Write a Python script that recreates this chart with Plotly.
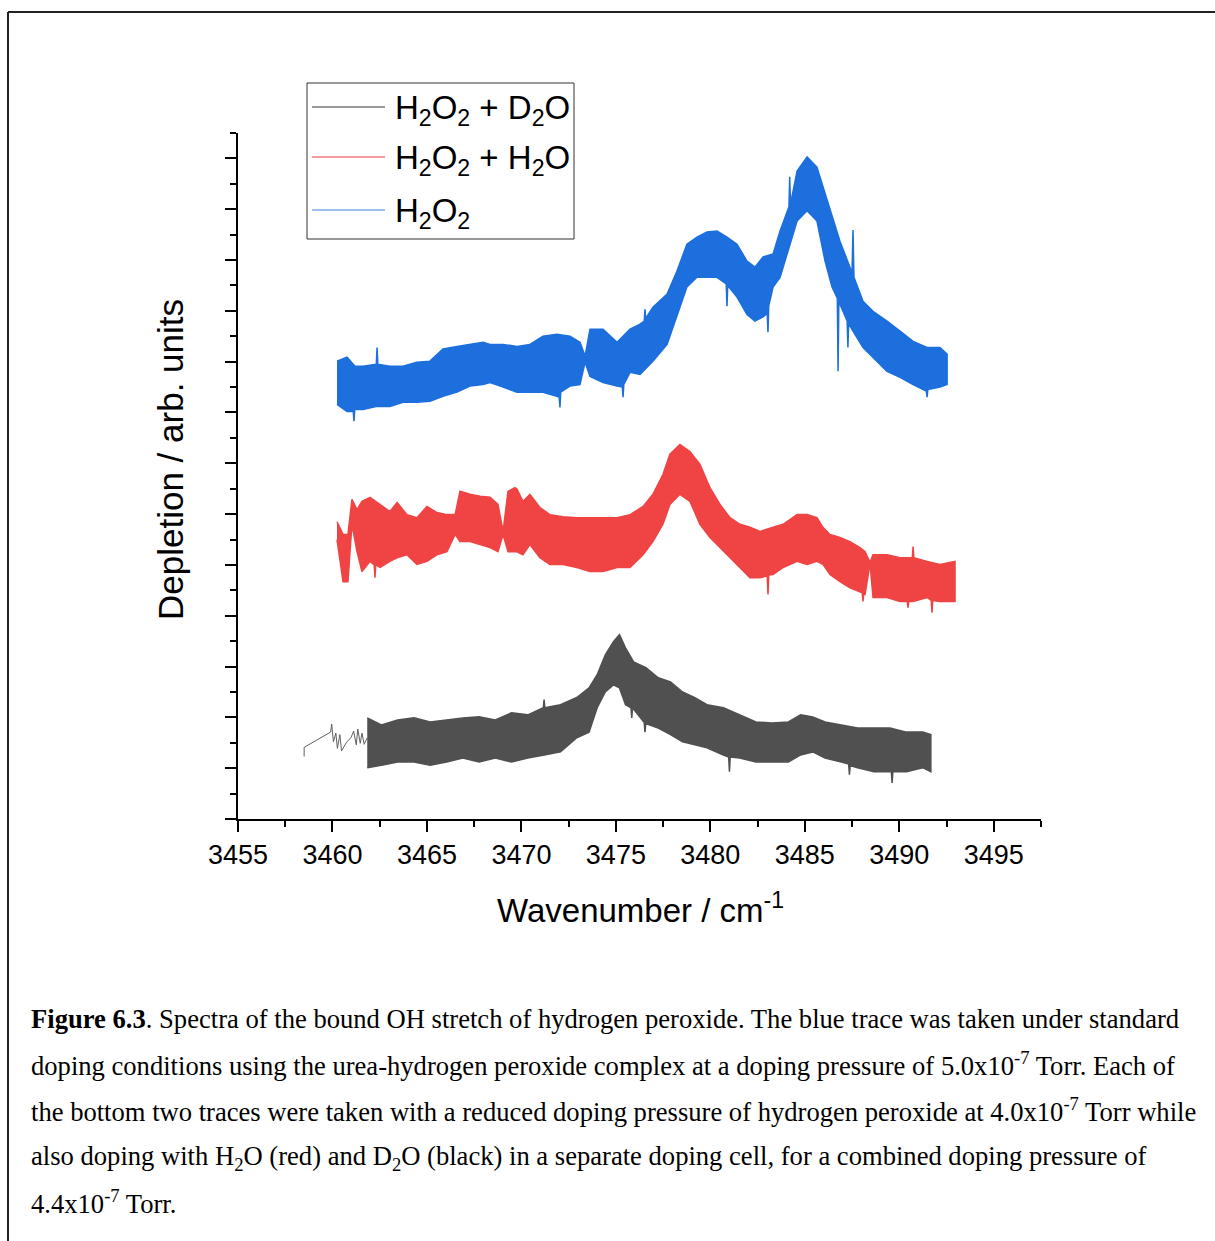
import plotly.graph_objects as go

# ---------------- data ----------------
# H2O2 (blue): upper and lower envelopes of the noisy trace
blue_hi_x = [3460.24, 3460.77, 3461.19, 3461.62, 3462.32, 3462.36, 3462.40, 3463.04, 3463.73, 3464.47,
             3465.16, 3465.85, 3466.59, 3467.28, 3467.97, 3468.34, 3469.03, 3469.77, 3470.45, 3471.14,
             3471.88, 3472.57, 3473.10, 3473.37, 3473.63, 3474.32, 3475.06, 3475.75, 3476.28, 3476.50,
             3476.54, 3476.58, 3476.96, 3477.71, 3478.23, 3478.76, 3479.29, 3479.82, 3480.35, 3480.88,
             3481.41, 3481.94, 3482.36, 3482.79, 3483.32, 3483.69, 3484.11, 3484.16, 3484.20, 3484.24,
             3484.59, 3485.12, 3485.64, 3486.07, 3486.44, 3486.86, 3487.50, 3487.55, 3487.60, 3488.08,
             3488.61, 3489.35, 3490.04, 3490.73, 3491.47, 3492.15, 3492.53]
blue_hi_y = [9.01, 9.09, 8.91, 8.91, 8.95, 9.28, 8.95, 8.91, 8.91, 8.99,
             9.01, 9.25, 9.30, 9.34, 9.38, 9.34, 9.34, 9.30, 9.34, 9.50,
             9.54, 9.50, 9.38, 9.11, 9.64, 9.64, 9.38, 9.64, 9.74, 9.80,
             10.03, 9.85, 10.07, 10.33, 10.78, 11.31, 11.45, 11.55, 11.57, 11.45,
             11.31, 10.98, 10.86, 11.06, 11.12, 11.57, 11.97, 12.05, 12.64, 12.10,
             12.75, 13.03, 12.83, 12.30, 11.85, 11.37, 10.75, 11.59, 10.66, 10.19,
             9.99, 9.80, 9.60, 9.40, 9.28, 9.28, 9.15]
blue_lo_x = [3460.24, 3460.77, 3461.10, 3461.14, 3461.18, 3461.62, 3462.36, 3463.04, 3463.73, 3464.47,
             3465.16, 3465.85, 3466.59, 3467.28, 3467.97, 3468.34, 3469.03, 3469.77, 3470.45, 3471.14,
             3471.88, 3472.00, 3472.04, 3472.08, 3472.57, 3473.10, 3473.37, 3473.63, 3474.32, 3475.06,
             3475.34, 3475.38, 3475.42, 3475.75, 3476.28, 3476.96, 3477.71, 3478.23, 3478.76, 3479.29,
             3479.82, 3480.35, 3480.84, 3480.88, 3480.92, 3481.41, 3481.94, 3482.36, 3482.79, 3483.01,
             3483.05, 3483.09, 3483.32, 3483.69, 3484.11, 3484.59, 3485.12, 3485.64, 3486.07, 3486.44,
             3486.72, 3486.76, 3486.80, 3486.86, 3487.24, 3487.28, 3487.32, 3487.55, 3488.08, 3488.61,
             3489.35, 3490.04, 3490.73, 3491.43, 3491.47, 3491.51, 3492.15, 3492.53]
blue_lo_y = [8.16, 8.02, 8.02, 7.83, 8.06, 8.06, 8.12, 8.12, 8.20, 8.20,
             8.22, 8.32, 8.40, 8.52, 8.55, 8.59, 8.50, 8.40, 8.40, 8.40,
             8.32, 8.30, 8.10, 8.40, 8.52, 8.55, 8.99, 8.71, 8.59, 8.52,
             8.50, 8.30, 8.55, 8.79, 8.75, 9.01, 9.34, 9.88, 10.47, 10.66,
             10.66, 10.66, 10.53, 10.09, 10.50, 10.27, 9.93, 9.80, 9.88, 9.95,
             9.58, 10.10, 10.47, 10.66, 11.18, 11.77, 11.97, 11.77, 10.98, 10.47,
             10.25, 8.81, 10.20, 10.13, 9.80, 9.28, 9.75, 9.60, 9.28, 9.09,
             8.81, 8.69, 8.55, 8.42, 8.30, 8.45, 8.50, 8.55]

# H2O2 + H2O (red)
red_hi_x = [3460.24, 3460.56, 3460.82, 3461.03, 3461.30, 3461.56, 3461.99, 3462.52, 3463.04, 3463.42,
            3463.94, 3464.47, 3465.00, 3465.53, 3466.06, 3466.49, 3466.75, 3467.28, 3467.81, 3468.34,
            3468.76, 3469.03, 3469.29, 3469.66, 3469.77, 3470.08, 3470.45, 3470.98, 3471.51, 3472.20,
            3472.94, 3473.63, 3474.32, 3475.06, 3475.75, 3476.44, 3476.96, 3477.49, 3477.86, 3478.39,
            3478.92, 3479.45, 3479.98, 3480.51, 3481.04, 3481.57, 3482.10, 3482.63, 3483.32, 3483.85,
            3484.59, 3485.12, 3485.64, 3485.96, 3486.33, 3486.86, 3487.39, 3487.92, 3488.19, 3488.45,
            3488.61, 3489.35, 3490.04, 3490.69, 3490.73, 3490.77, 3491.47, 3492.15, 3492.95]
red_hi_y = [5.85, 5.60, 5.60, 6.29, 6.09, 6.25, 6.33, 6.19, 6.05, 6.23,
            5.99, 5.93, 6.15, 6.03, 5.99, 5.99, 6.45, 6.39, 6.35, 6.33,
            6.19, 5.66, 6.45, 6.52, 6.49, 6.25, 6.39, 6.13, 5.99, 5.95,
            5.93, 5.93, 5.93, 5.93, 5.99, 6.15, 6.39, 6.78, 7.18, 7.37,
            7.23, 6.98, 6.52, 6.19, 5.93, 5.80, 5.74, 5.66, 5.74, 5.80,
            5.99, 5.99, 5.93, 5.74, 5.60, 5.54, 5.46, 5.34, 5.26, 5.05,
            5.20, 5.20, 5.14, 5.14, 5.36, 5.14, 5.07, 5.01, 5.07]
red_lo_x = [3460.24, 3460.56, 3460.82, 3461.03, 3461.30, 3461.56, 3461.99, 3462.21, 3462.25, 3462.29,
            3462.52, 3463.04, 3463.42, 3463.94, 3464.47, 3465.00, 3465.53, 3466.06, 3466.49, 3466.75,
            3467.28, 3467.81, 3468.34, 3468.76, 3469.03, 3469.29, 3469.77, 3470.08, 3470.45, 3470.98,
            3471.51, 3472.20, 3472.94, 3473.63, 3474.32, 3475.06, 3475.75, 3476.44, 3476.96, 3477.49,
            3477.86, 3478.39, 3478.92, 3479.45, 3479.98, 3480.51, 3481.04, 3481.57, 3482.10, 3482.63,
            3483.01, 3483.05, 3483.09, 3483.32, 3483.85, 3484.59, 3485.12, 3485.64, 3485.96, 3486.33,
            3486.86, 3487.39, 3487.92, 3488.04, 3488.08, 3488.12, 3488.19, 3488.45, 3488.61, 3489.35,
            3490.04, 3490.42, 3490.46, 3490.50, 3490.73, 3491.47, 3491.69, 3491.73, 3491.77, 3492.15,
            3492.95]
red_lo_y = [5.50, 4.67, 4.67, 5.80, 5.26, 4.87, 5.07, 5.00, 4.75, 5.00,
            4.95, 5.07, 5.14, 5.20, 5.01, 5.07, 5.20, 5.26, 5.60, 5.46,
            5.46, 5.40, 5.34, 5.26, 5.60, 5.26, 5.26, 5.20, 5.40, 5.14,
            5.01, 5.01, 4.95, 4.87, 4.87, 4.95, 4.95, 5.20, 5.46, 5.80,
            6.19, 6.39, 6.25, 5.80, 5.54, 5.34, 5.14, 4.95, 4.75, 4.75,
            4.78, 4.42, 4.80, 4.81, 4.95, 5.07, 5.01, 5.07, 5.01, 4.81,
            4.67, 4.55, 4.47, 4.45, 4.28, 4.44, 4.42, 5.03, 4.36, 4.36,
            4.28, 4.28, 4.16, 4.28, 4.28, 4.36, 4.30, 4.06, 4.30, 4.28,
            4.28]

# H2O2 + D2O (black)
black_sparse_x = [3458.50, 3458.50, 3459.90, 3459.96, 3460.05, 3460.18, 3460.26, 3460.39, 3460.48,
                  3460.76, 3460.98, 3461.12, 3461.26, 3461.34, 3461.47, 3461.56, 3461.68, 3461.84]
black_sparse_y = [1.23, 1.41, 1.71, 1.87, 1.52, 1.69, 1.39, 1.66, 1.34,
                  1.52, 1.60, 1.73, 1.46, 1.77, 1.49, 1.69, 1.47, 1.60]
black_hi_x = [3461.84, 3462.59, 3463.45, 3464.32, 3465.17, 3466.04, 3466.90, 3467.76, 3468.62, 3469.48,
              3470.34, 3471.16, 3471.20, 3471.24, 3472.07, 3472.93, 3473.58, 3474.01, 3474.44, 3474.87,
              3475.19, 3475.51, 3475.94, 3476.59, 3477.24, 3477.89, 3478.53, 3479.18, 3479.82, 3480.69,
              3481.55, 3482.41, 3483.27, 3484.13, 3484.78, 3485.42, 3486.07, 3486.93, 3487.79, 3488.66,
              3489.51, 3490.38, 3491.24, 3491.67]
black_hi_y = [1.99, 1.85, 1.95, 1.99, 1.91, 1.95, 1.99, 2.01, 1.95, 2.09,
              2.05, 2.19, 2.35, 2.19, 2.25, 2.39, 2.58, 2.84, 3.23, 3.49,
              3.63, 3.37, 3.09, 2.98, 2.78, 2.70, 2.50, 2.39, 2.25, 2.19,
              2.05, 1.91, 1.89, 1.91, 2.05, 2.01, 1.91, 1.85, 1.79, 1.79,
              1.79, 1.71, 1.71, 1.66]
black_lo_x = [3461.84, 3462.59, 3463.45, 3464.32, 3465.17, 3466.04, 3466.90, 3467.76, 3468.62, 3469.48,
              3470.34, 3471.21, 3472.07, 3472.93, 3473.58, 3474.01, 3474.44, 3474.87, 3475.19, 3475.51,
              3475.80, 3475.84, 3475.88, 3476.50, 3476.54, 3476.58, 3477.24, 3477.89, 3478.53, 3479.18,
              3479.82, 3480.69, 3480.97, 3481.01, 3481.05, 3481.55, 3482.41, 3483.27, 3484.13, 3484.78,
              3485.42, 3486.07, 3486.93, 3487.32, 3487.36, 3487.40, 3487.79, 3488.66, 3489.51, 3489.58,
              3489.62, 3489.66, 3490.38, 3491.24, 3491.67]
black_lo_y = [1.01, 1.06, 1.12, 1.12, 1.06, 1.12, 1.20, 1.12, 1.20, 1.12,
              1.20, 1.26, 1.32, 1.60, 1.71, 2.19, 2.50, 2.64, 2.58, 2.25,
              2.19, 1.99, 2.19, 1.90, 1.71, 1.88, 1.79, 1.66, 1.52, 1.46,
              1.40, 1.26, 1.22, 0.93, 1.22, 1.20, 1.12, 1.12, 1.12, 1.26,
              1.32, 1.20, 1.12, 1.08, 0.87, 1.05, 1.01, 0.93, 0.93, 0.93,
              0.71, 0.93, 0.93, 1.01, 0.93]

series_names = ["H<sub>2</sub>O<sub>2</sub> + D<sub>2</sub>O",
                "H<sub>2</sub>O<sub>2</sub> + H<sub>2</sub>O",
                "H<sub>2</sub>O<sub>2</sub>"]
x_ticks = [3455, 3460, 3465, 3470, 3475, 3480, 3485, 3490, 3495]

BLACK = "#505050"
RED = "#f04444"
BLUE = "#1c6fdc"
LEG_COLORS = ["#333333", "#e83a3a", "#3a80de"]

SANS = "Liberation Sans, Arial, sans-serif"
SERIF = "Liberation Serif, Times New Roman, serif"

fig = go.Figure()


def band(xh, yh, xl, yl, color, name):
    fig.add_trace(go.Scatter(
        x=list(xh) + list(xl)[::-1],
        y=list(yh) + list(yl)[::-1],
        mode="lines", fill="toself", fillcolor=color,
        line=dict(color=color, width=1.5), name=name, showlegend=False,
        hoverinfo="skip"))


fig.add_trace(go.Scatter(x=black_sparse_x, y=black_sparse_y, mode="lines",
                         line=dict(color="#606060", width=1), showlegend=False, hoverinfo="skip"))
band(black_hi_x, black_hi_y, black_lo_x, black_lo_y, BLACK, series_names[0])
band(red_hi_x, red_hi_y, red_lo_x, red_lo_y, RED, series_names[1])
band(blue_hi_x, blue_hi_y, blue_lo_x, blue_lo_y, BLUE, series_names[2])

# plot area pixels: x 238..1041, y 133..819
W, H = 1215, 1241
L, R, T, B = 238, 1041, 133, 819


def px(x):
    return (x - L) / (R - L)


def py(y):
    return (B - y) / (B - T)


shapes = []
annotations = []

# page frame (top and left edges)
shapes.append(dict(type="line", xref="paper", yref="paper", x0=px(8), x1=px(1215), y0=py(12), y1=py(12),
                   line=dict(color="#222222", width=2)))
shapes.append(dict(type="line", xref="paper", yref="paper", x0=px(8), x1=px(8), y0=py(12), y1=py(1241),
                   line=dict(color="#222222", width=2)))

# legend box
shapes.append(dict(type="rect", xref="paper", yref="paper", x0=px(307), x1=px(574), y0=py(83), y1=py(239),
                   line=dict(color="#333333", width=1), fillcolor="white", layer="above"))
leg_y = [107, 157, 210]
for i in range(3):
    shapes.append(dict(type="line", xref="paper", yref="paper", x0=px(312), x1=px(385),
                       y0=py(leg_y[i]), y1=py(leg_y[i]), line=dict(color=LEG_COLORS[i], width=1.2),
                       layer="above"))
    annotations.append(dict(text=series_names[i], xref="paper", yref="paper", x=px(393), y=py(leg_y[i] + 3),
                            xanchor="left", yanchor="middle", showarrow=False,
                            font=dict(family=SANS, size=33, color="black")))

# axis titles
annotations.append(dict(text="Wavenumber / cm<sup>-1</sup>", xref="paper", yref="paper", x=px(640), y=py(908),
                        xanchor="center", yanchor="middle", showarrow=False,
                        font=dict(family=SANS, size=33, color="black")))
annotations.append(dict(text="Depletion / arb. units", xref="paper", yref="paper", x=px(170), y=py(460),
                        xanchor="center", yanchor="middle", textangle=-90, showarrow=False,
                        font=dict(family=SANS, size=35, color="black")))

# caption
caption = [
    "<b>Figure 6.3</b>. Spectra of the bound OH stretch of hydrogen peroxide. The blue trace was taken under standard",
    "doping conditions using the urea-hydrogen peroxide complex at a doping pressure of 5.0x10<sup>-7</sup> Torr. Each of",
    "the bottom two traces were taken with a reduced doping pressure of hydrogen peroxide at 4.0x10<sup>-7</sup> Torr while",
    "also doping with H<sub>2</sub>O (red) and D<sub>2</sub>O (black) in a separate doping cell, for a combined doping pressure of",
    "4.4x10<sup>-7</sup> Torr.",
]
cap_y = [1019, 1064, 1110, 1158, 1202]
for t, yy in zip(caption, cap_y):
    annotations.append(dict(text=t, xref="paper", yref="paper", x=px(29), y=py(yy),
                            xanchor="left", yanchor="middle", showarrow=False,
                            font=dict(family=SERIF, size=26.6, color="black")))

fig.update_layout(
    width=W, height=H,
    margin=dict(l=L, r=W - R, t=T, b=H - B, pad=0),
    paper_bgcolor="white", plot_bgcolor="white",
    showlegend=False,
    shapes=shapes, annotations=annotations,
    xaxis=dict(range=[3455, 3497.5], tickmode="array", tickvals=x_ticks,
               ticktext=[str(v) for v in x_ticks],
               ticks="outside", ticklen=11, tickwidth=2, tickcolor="black",
               showline=True, linewidth=2, linecolor="black", mirror=False,
               showgrid=False, zeroline=False,
               tickfont=dict(family=SANS, size=27, color="black"),
               minor=dict(dtick=2.5, tick0=3455, ticks="outside", ticklen=6, tickwidth=2,
                          tickcolor="black", showgrid=False)),
    yaxis=dict(range=[0, 13.5], dtick=1, tick0=0, ticks="outside", ticklen=11, tickwidth=2,
               tickcolor="black", showticklabels=False,
               showline=True, linewidth=2, linecolor="black", mirror=False,
               showgrid=False, zeroline=False,
               minor=dict(dtick=0.5, tick0=0, ticks="outside", ticklen=6, tickwidth=2,
                          tickcolor="black", showgrid=False)),
)

fig.write_html("out.html")
